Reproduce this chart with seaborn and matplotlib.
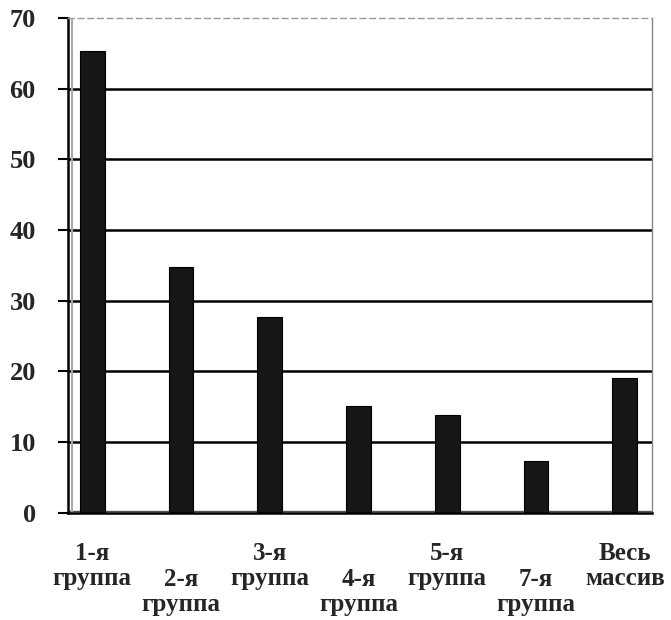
import matplotlib
matplotlib.use("Agg")
import matplotlib.pyplot as plt
import seaborn as sns
import numpy as np
import pandas as pd

# Chart data
groups = ["1-я\nгруппа", "2-я\nгруппа", "3-я\nгруппа", "4-я\nгруппа",
          "5-я\nгруппа", "7-я\nгруппа", "Весь\nмассив"]
values = [65.3, 34.7, 27.7, 15.1, 13.8, 7.3, 19.0]
y_ticks = [0, 10, 20, 30, 40, 50, 60, 70]

sns.set_theme(style="white")
plt.rcParams['font.family'] = ['Liberation Serif', 'DejaVu Serif']
plt.rcParams['font.weight'] = 'bold'

# every category takes two slots, the bar sits in the first one
slot = np.arange(len(groups)) * 2
df = pd.DataFrame({"pos": slot, "value": values, "group": groups})

fig, ax = plt.subplots(figsize=(6.71, 6.2), dpi=100)
fig.subplots_adjust(left=0.101, right=0.972, top=0.971, bottom=0.173)

sns.barplot(data=df, x="pos", y="value", native_scale=True, width=0.28,
            color="#161616", saturation=1, edgecolor="#000000", linewidth=0.8, ax=ax)

ax.set_ylim(0, 70)
ax.set_xlim(-0.55, 12.62)
ax.set_yticks(y_ticks)
ax.set_yticklabels([str(v) for v in y_ticks], fontsize=19, fontweight='bold')
for v in y_ticks[1:-1]:
    ax.axhline(v, color="black", linewidth=1.8, zorder=0)
ax.axhline(0.25, color="#555555", linewidth=1.0, zorder=0)  # floor

# category labels, staggered
ax.set_xticks(slot)
ax.set_xticklabels(groups, fontsize=18, fontweight='bold', linespacing=1.12)
ax.set_xticks(np.arange(-0.5, 13, 1), minor=True)
ax.tick_params(axis="x", which="major", length=0)
ax.tick_params(axis="x", which="minor", length=7, width=1.5, direction="out", color="black")
ax.tick_params(axis="y", length=7, width=1.5, direction="out", color="black", pad=16, left=True)
for i, t in enumerate(ax.xaxis.get_major_ticks()):
    t.set_pad(21 if i % 2 == 0 else 40)

ax.set_xlabel("")
ax.set_ylabel("")
ax.spines["left"].set_color("black")
ax.spines["left"].set_linewidth(1.8)
ax.spines["bottom"].set_color("black")
ax.spines["bottom"].set_linewidth(1.8)
ax.spines["top"].set_color("#999999")
ax.spines["top"].set_linestyle((0, (4, 3)))
ax.spines["top"].set_linewidth(1.0)
ax.spines["right"].set_color("#888888")
ax.spines["right"].set_linewidth(1.0)
ax.axvline(-0.45, color="#aaaaaa", linewidth=1.5, zorder=0)  # side wall

plt.savefig("out.png", dpi=100)
